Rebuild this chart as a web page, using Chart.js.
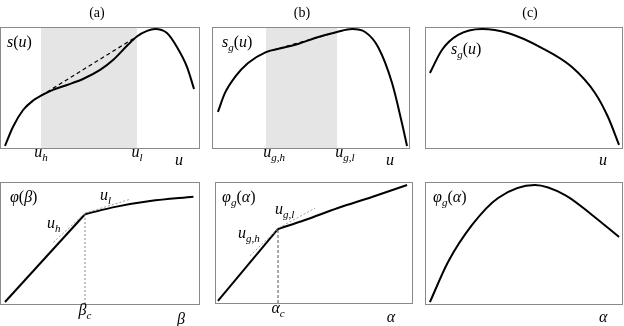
<!DOCTYPE html>
<html><head><meta charset="utf-8">
<script src="https://cdn.jsdelivr.net/npm/chart.js@4.4.0/dist/chart.umd.min.js"></script>
<style>
html,body{margin:0;padding:0;background:#fff;}
#wrap{position:relative;width:624px;height:326px;overflow:hidden;}
#wrap canvas{position:absolute;left:0;top:0;}
</style></head><body><div id="wrap"></div>
<script>
// ---------- DATA ----------
const panelTitles = ['(a)', '(b)', '(c)'];

// (a) top: s(u)
const sA_x = [0.25,0.65,1.16,1.66,2.06,2.66,3.37,4.17,5.03,5.68,6.38,6.88,7.39,7.79,8.39,8.89,9.40,9.75];
const sA_y = [0.17,1.74,3.14,3.92,4.32,4.80,5.21,5.70,6.45,7.27,8.45,9.22,9.68,9.83,9.50,8.35,6.69,4.88];
const shadeA = [2.06, 6.88];
const chordA_y = [4.32, 9.22];
const topLabelsA = ['s(u)', 'u_h', 'u_l', 'u'];

// (b) top: s_g(u)
const sB_x = [0.30,0.66,1.17,1.83,2.74,3.55,4.37,5.23,6.35,7.11,7.77,8.43,9.14,9.64,9.90];
const sB_y = [2.98,4.55,5.87,7.02,7.93,8.26,8.60,9.09,9.59,9.83,9.59,8.35,5.37,2.07,0.17];
const shadeB = [2.74, 6.35];
const chordB_y = [7.93, 9.59];
const topLabelsB = ['s_g(u)', 'u_{g,h}', 'u_{g,l}', 'u'];

// (c) top: s_g(u)
const sC_x = [0.25,0.86,1.68,2.89,4.21,5.94,7.46,8.63,9.29,9.85];
const sC_y = [6.20,8.10,9.34,9.83,9.50,8.26,6.69,4.55,2.56,0.25];
const topLabelsC = ['s_g(u)', 'u'];

// (a) bottom: phi(beta)
const phiA_lin_x = [0.25, 4.27];
const phiA_lin_y = [0.16, 7.36];
const phiA_x = [4.27, 5.86, 7.54, 9.72];
const phiA_y = [7.36, 7.98, 8.44, 8.80];
const betaC = 4.27;
const tanA_h_x = [2.68, 4.27], tanA_h_y = [5.06, 7.45];
const tanA_l_x = [4.27, 6.53], tanA_l_y = [7.45, 8.58];
const botLabelsA = ['φ(β)', 'u_h', 'u_l', 'β_c', 'β'];

// (b) bottom: phi_g(alpha)
const phiB_lin_x = [0.15, 3.20];
const phiB_lin_y = [0.17, 6.12];
const phiB_x = [3.20, 4.57, 6.24, 7.97, 9.75];
const phiB_y = [6.12, 6.86, 7.85, 8.76, 9.75];
const alphaC = 3.20;
const tanB_h_x = [1.78, 3.25], tanB_h_y = [3.91, 6.22];
const tanB_l_x = [3.25, 5.08], tanB_l_y = [6.22, 7.83];
const botLabelsB = ['φ_g(α)', 'u_{g,h}', 'u_{g,l}', 'α_c', 'α'];

// (c) bottom: phi_g(alpha)
const phiC_x = [0.25,1.17,2.39,3.71,5.58,7.11,8.48,9.85];
const phiC_y = [0.16,3.44,6.48,8.69,9.75,8.93,7.30,5.49];
const botLabelsC = ['φ_g(α)', 'α'];

// ---------- RENDERING ----------
const FONT = '"Liberation Serif", "DejaVu Serif", serif';
const pts = (xs, ys) => xs.map((x, i) => ({x, y: ys[i]}));

function parseMath(s){
  const out=[]; let i=0;
  const isLetter = ch => /[A-Za-z\u03b1-\u03c9\u03c6]/.test(ch);
  while(i<s.length){
    const c=s[i];
    if(c==='_'){
      i++; let g;
      if(s[i]==='{'){ const j=s.indexOf('}',i); g=s.slice(i+1,j); i=j+1; }
      else { g=s[i]; i++; }
      for(const ch of g) out.push({t:ch, sub:true, it:isLetter(ch)});
      continue;
    }
    out.push({t:c, sub:false, it:isLetter(c)}); i++;
  }
  return out;
}
function drawMath(ctx, s, x, y, align, size, upright){
  const toks=parseMath(s);
  const f = tk => ((tk.it && !upright)?'italic ':'') + (tk.sub?Math.round(size*0.7):size)+'px '+FONT;
  let w=0; for(const tk of toks){ ctx.font=f(tk); w+=ctx.measureText(tk.t).width; }
  let cx = align==='center' ? x-w/2 : (align==='right' ? x-w : x);
  ctx.textAlign='left'; ctx.textBaseline='alphabetic'; ctx.fillStyle='#000';
  for(const tk of toks){ ctx.font=f(tk); ctx.fillText(tk.t, cx, y+(tk.sub?size*0.25:0)); cx+=ctx.measureText(tk.t).width; }
}

const panelPlugin = {
  id:'panel',
  beforeDatasetsDraw(chart, args, opts){
    const {ctx, chartArea:a, scales:{x}} = chart;
    if(opts.shade){
      const x0=x.getPixelForValue(opts.shade[0]), x1=x.getPixelForValue(opts.shade[1]);
      ctx.save(); ctx.fillStyle='#e5e5e5'; ctx.fillRect(x0, a.top, x1-x0, a.bottom-a.top); ctx.restore();
    }
  },
  afterDatasetsDraw(chart){
    const {ctx, chartArea:a} = chart;
    ctx.save(); ctx.strokeStyle='#8a8a8a'; ctx.lineWidth=1;
    ctx.strokeRect(a.left+0.5, a.top+0.5, a.right-a.left, a.bottom-a.top);
    ctx.restore();
  },
  afterDraw(chart, args, opts){
    const {ctx, scales:{x,y}} = chart;
    ctx.save();
    for(const L of (opts.labels||[])){
      drawMath(ctx, L.text, x.getPixelForValue(L.x), y.getPixelForValue(L.y), L.align||'left', L.size||16, L.upright);
    }
    ctx.restore();
  }
};

const wrap = document.getElementById('wrap');
function makePanel(box, datasets, pluginOpts){
  const c=document.createElement('canvas'); c.width=624; c.height=326; wrap.appendChild(c);
  new Chart(c, {
    type:'scatter',
    data:{datasets},
    options:{
      responsive:false, animation:false, devicePixelRatio:1, events:[],
      layout:{padding:{left:box[0], top:box[1], right:624-box[2], bottom:326-box[3]}},
      plugins:{legend:{display:false}, tooltip:{enabled:false}, panel:pluginOpts},
      scales:{x:{type:'linear', min:0, max:10, display:false}, y:{type:'linear', min:0, max:10, display:false}}
    },
    plugins:[panelPlugin]
  });
}
const curve = (data, extra) => Object.assign({data, showLine:true, pointRadius:0, borderColor:'#000', borderWidth:2, cubicInterpolationMode:'monotone', clip:false}, extra||{});
const dashed = (data) => ({data, showLine:true, pointRadius:0, borderColor:'#000', borderWidth:1.2, borderDash:[4,3], clip:false});
const thin = (data, color, dash) => ({data, showLine:true, pointRadius:0, borderColor:color, borderWidth:1, borderDash:dash, clip:false});

// top row
makePanel([0,27,199,148],
  [curve(pts(sA_x,sA_y)), dashed(pts(shadeA, chordA_y))],
  {shade:shadeA, labels:[
    {text:panelTitles[0], x:4.87, y:10.83, align:'center', size:14, upright:true},
    {text:topLabelsA[0], x:0.35, y:8.35},
    {text:topLabelsA[1], x:shadeA[0], y:-0.74, align:'center'},
    {text:topLabelsA[2], x:shadeA[1], y:-0.74, align:'center'},
    {text:topLabelsA[3], x:9.0, y:-1.40, align:'center'}]});
makePanel([212,27,409,148],
  [curve(pts(sB_x,sB_y)), dashed(pts(shadeB, chordB_y))],
  {shade:shadeB, labels:[
    {text:panelTitles[1], x:4.57, y:10.83, align:'center', size:14, upright:true},
    {text:topLabelsB[0], x:0.51, y:8.35},
    {text:topLabelsB[1], x:3.15, y:-0.74, align:'center'},
    {text:topLabelsB[2], x:6.75, y:-0.74, align:'center'},
    {text:topLabelsB[3], x:9.04, y:-1.40, align:'center'}]});
makePanel([425,27,622,148],
  [curve(pts(sC_x,sC_y))],
  {labels:[
    {text:panelTitles[2], x:5.33, y:10.83, align:'center', size:14, upright:true},
    {text:topLabelsC[0], x:1.32, y:7.77},
    {text:topLabelsC[1], x:9.04, y:-1.40, align:'center'}]});

// bottom row
makePanel([0,182,199,304],
  [thin(pts([betaC,betaC],[0,phiA_lin_y[1]]), '#888', [2,2]),
   thin(pts(tanA_h_x,tanA_h_y), '#999', [2,2]),
   thin(pts(tanA_l_x,tanA_l_y), '#999', [2,2]),
   curve(pts(phiA_lin_x,phiA_lin_y), {cubicInterpolationMode:'default', tension:0}),
   curve(pts(phiA_x,phiA_y))],
  {labels:[
    {text:botLabelsA[0], x:0.5, y:8.36},
    {text:botLabelsA[1], x:2.36, y:6.23},
    {text:botLabelsA[2], x:5.03, y:8.52},
    {text:botLabelsA[3], x:betaC, y:-0.90, align:'center'},
    {text:botLabelsA[4], x:9.1, y:-1.64, align:'center'}]});
makePanel([215,182,412,303],
  [thin(pts([alphaC,alphaC],[0,phiB_lin_y[1]]), '#555', [3,2]),
   thin(pts(tanB_h_x,tanB_h_y), '#999', [2,2]),
   thin(pts(tanB_l_x,tanB_l_y), '#999', [2,2]),
   curve(pts(phiB_lin_x,phiB_lin_y), {cubicInterpolationMode:'default', tension:0}),
   curve(pts(phiB_x,phiB_y))],
  {labels:[
    {text:botLabelsB[0], x:0.36, y:8.35},
    {text:botLabelsB[1], x:1.17, y:5.37},
    {text:botLabelsB[2], x:3.05, y:7.36},
    {text:botLabelsB[3], x:alphaC, y:-0.83, align:'center'},
    {text:botLabelsB[4], x:8.93, y:-1.57, align:'center'}]});
makePanel([425,182,622,304],
  [curve(pts(phiC_x,phiC_y))],
  {labels:[
    {text:botLabelsC[0], x:0.41, y:8.36},
    {text:botLabelsC[1], x:9.04, y:-1.48, align:'center'}]});
</script></body></html>
